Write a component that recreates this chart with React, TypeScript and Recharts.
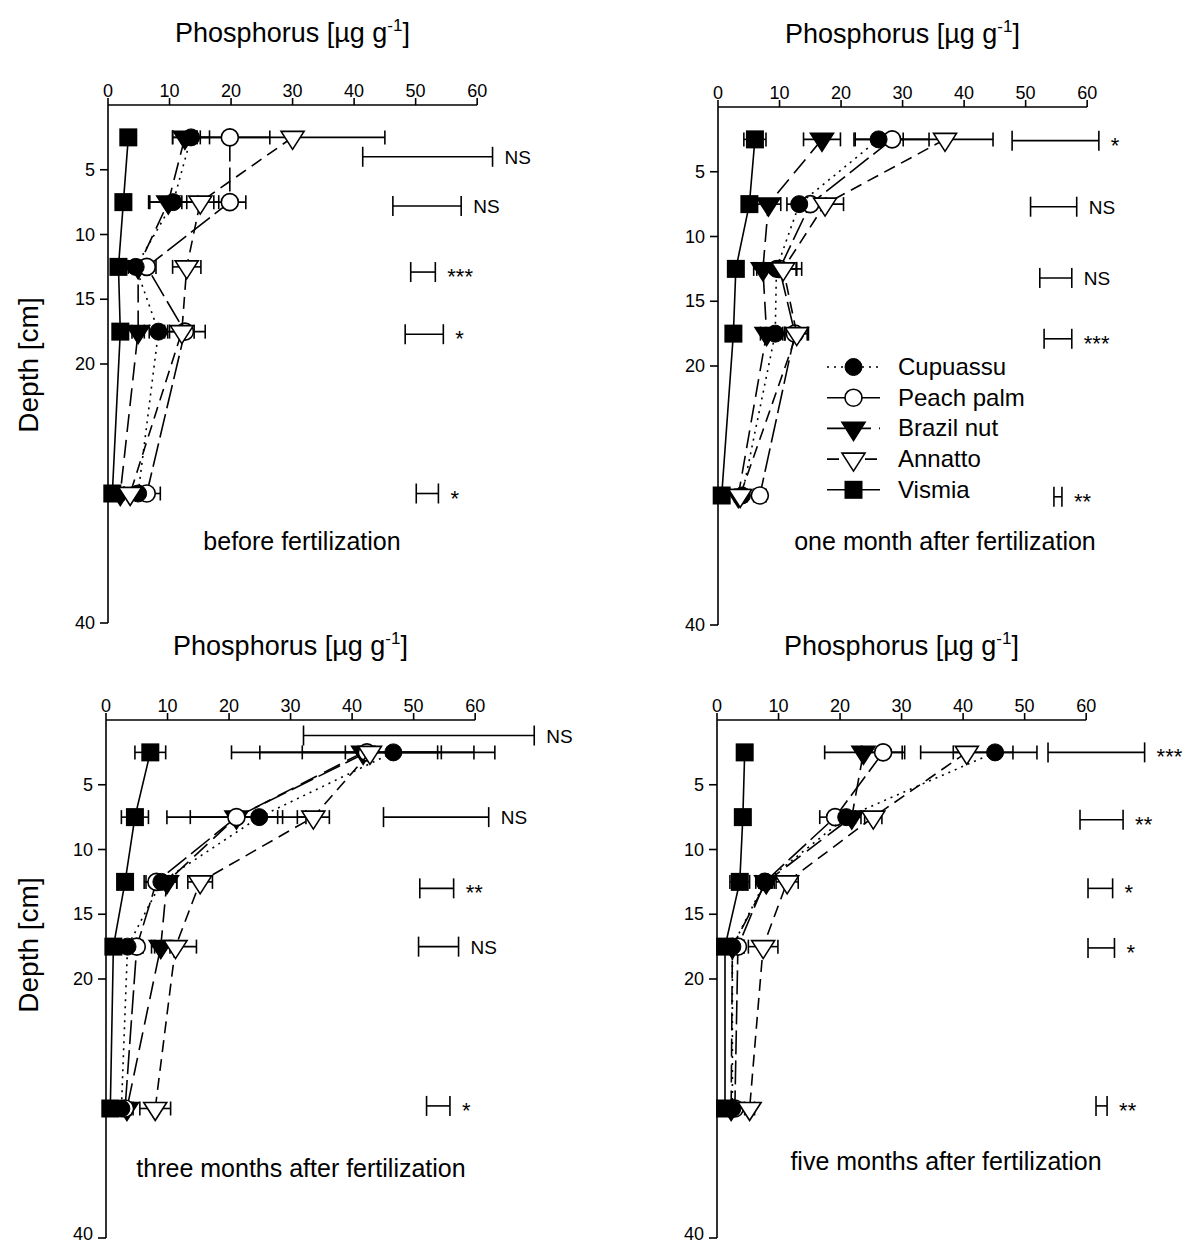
import React from "react";
import {
  ScatterChart,
  Scatter,
  XAxis,
  YAxis,
  ErrorBar,
  ReferenceLine,
  Legend,
} from "recharts";

const FONT = '"Liberation Sans", Arial, Helvetica, sans-serif';

const depths = [2.5, 7.5, 12.5, 17.5, 30];
const phosphorusTicks = [0, 10, 20, 30, 40, 50, 60];
const depthTicks = [5, 10, 15, 20, 40];
const species = ["Cupuassu", "Peach palm", "Brazil nut", "Annatto", "Vismia"];

// rows follow `species`, columns follow `depths`
const beforeMeans = [
  [13.5, 10.6, 4.5, 8.2, 4.9],
  [19.8, 19.8, 6.3, 12.5, 6.3],
  [12.5, 9.8, 4.9, 4.9, 2.0],
  [30.0, 15.0, 12.8, 12.0, 3.6],
  [3.3, 2.5, 1.7, 2.0, 0.7],
];
const beforeErrors = [
  [3.0, 4.0, 1.2, 1.5, 1.0],
  [6.5, 2.6, 1.5, 3.3, 2.2],
  [2.0, 3.0, 0.8, 1.0, 0.6],
  [15.0, 3.0, 2.3, 2.0, 1.0],
  [0.8, 0.8, 0.6, 0.6, 0.4],
];
const beforeSigLow = [41.4, 46.3, 49.2, 48.3, 50.1];
const beforeSigHigh = [62.5, 57.4, 53.2, 54.5, 53.7];
const beforeSigDepth = [4.0, 7.8, 12.9, 17.7, 30.0];
const beforeSigText = ["NS", "NS", "***", "*", "*"];

const oneMonthMeans = [
  [26.1, 13.2, 9.5, 9.3, 3.9],
  [28.3, 15.0, 10.0, 12.5, 6.8],
  [16.9, 8.2, 7.3, 7.9, 3.3],
  [36.9, 17.4, 10.6, 12.8, 3.6],
  [6.0, 5.1, 2.9, 2.5, 0.6],
];
const oneMonthErrors = [
  [4.0, 2.0, 3.2, 1.5, 0.8],
  [6.0, 2.5, 2.8, 2.0, 1.0],
  [3.0, 2.0, 1.5, 1.0, 0.6],
  [7.8, 3.0, 3.0, 1.9, 0.8],
  [1.8, 1.0, 0.5, 0.5, 0.4],
];
const oneMonthSigLow = [47.8, 50.8, 52.3, 53.0, 54.6];
const oneMonthSigHigh = [61.9, 58.3, 57.5, 57.5, 55.9];
const oneMonthSigDepth = [2.6, 7.7, 13.2, 17.9, 30.1];
const oneMonthSigText = ["*", "NS", "NS", "***", "**"];

const threeMonthMeans = [
  [46.7, 24.9, 9.0, 3.5, 2.5],
  [42.4, 21.2, 8.2, 5.0, 3.1],
  [41.8, 21.2, 9.9, 8.9, 3.4],
  [42.9, 33.7, 15.3, 11.3, 8.0],
  [7.2, 4.7, 3.1, 1.2, 0.7],
];
const threeMonthErrors = [
  [7.8, 3.0, 2.5, 0.8, 0.8],
  [17.4, 7.5, 2.0, 1.0, 1.0],
  [21.4, 11.3, 1.6, 1.5, 1.0],
  [11.0, 2.6, 2.0, 3.4, 2.5],
  [2.5, 2.2, 0.8, 0.5, 0.4],
];
const threeMonthSigLow = [32.1, 45.1, 51.0, 50.8, 52.1];
const threeMonthSigHigh = [69.6, 62.2, 56.5, 57.3, 55.9];
const threeMonthSigDepth = [1.2, 7.5, 13.0, 17.5, 29.8];
const threeMonthSigText = ["NS", "NS", "**", "NS", "*"];

const fiveMonthMeans = [
  [45.2, 21.0, 7.8, 2.5, 2.5],
  [27.0, 19.2, 7.8, 3.4, 2.9],
  [23.8, 21.9, 8.0, 2.5, 2.3],
  [40.6, 25.4, 11.4, 7.5, 5.3],
  [4.5, 4.2, 3.7, 1.3, 1.3],
];
const fiveMonthErrors = [
  [6.8, 1.5, 1.0, 0.5, 0.5],
  [3.5, 2.5, 1.5, 1.0, 0.6],
  [6.3, 1.5, 1.0, 0.6, 0.5],
  [7.5, 1.4, 1.8, 2.4, 0.8],
  [0.6, 0.6, 1.6, 0.5, 0.5],
];
const fiveMonthSigLow = [53.8, 59.0, 60.3, 60.3, 61.6];
const fiveMonthSigHigh = [69.5, 66.0, 64.3, 64.6, 63.4];
const fiveMonthSigDepth = [2.5, 7.7, 13.0, 17.6, 29.8];
const fiveMonthSigText = ["***", "**", "*", "*", "**"];

// marker and line look per species (same order as `species`)
const markers = ["filledCircle", "openCircle", "filledTri", "openTri", "filledSquare"];
const dashes = ["2 5", "24 6", "18 8", "12 7", undefined];
const drawOrder = [4, 2, 1, 0, 3];

const LW = 1.6;

function Marker({ kind, cx, cy }: { kind: string; cx: number; cy: number }) {
  if (cx == null || cy == null) return null;
  switch (kind) {
    case "filledCircle":
      return <circle cx={cx} cy={cy} r={8.5} fill="#000" stroke="#000" />;
    case "openCircle":
      return <circle cx={cx} cy={cy} r={8.5} fill="#fff" stroke="#000" strokeWidth={LW} />;
    case "filledTri":
    case "openTri": {
      const pts = `${cx - 11.5},${cy - 6} ${cx + 11.5},${cy - 6} ${cx},${cy + 12}`;
      const open = kind === "openTri";
      return (
        <polygon
          points={pts}
          fill={open ? "#fff" : "#000"}
          stroke="#000"
          strokeWidth={LW}
          strokeLinejoin="miter"
        />
      );
    }
    default:
      return <rect x={cx - 9} y={cy - 9} width={18} height={18} fill="#000" />;
  }
}

function SigLabel(props: any) {
  const { cx, cy } = props;
  const text = props.payload?.text ?? props.text;
  if (cx == null) return null;
  const stars = text.includes("*");
  return (
    <text
      x={cx + 12}
      y={cy + (stars ? 12 : 7)}
      fontSize={stars ? 22 : 19}
      fontFamily={FONT}
      fill="#000"
    >
      {text}
    </text>
  );
}

function LegendBox() {
  return (
    <svg width={210} height={160} style={{ display: "block" }}>
      {species.map((name, i) => {
        const y = 15 + i * 30.7;
        return (
          <g key={name}>
            <line
              x1={0}
              x2={53}
              y1={y}
              y2={y}
              stroke="#000"
              strokeWidth={LW}
              strokeDasharray={dashes[i]}
            />
            <Marker kind={markers[i]} cx={26.5} cy={y} />
            <text x={71} y={y + 8} fontSize={24} fontFamily={FONT} fill="#000">
              {name}
            </text>
          </g>
        );
      })}
    </svg>
  );
}

type PanelProps = {
  means: number[][];
  errors: number[][];
  sigLow: number[];
  sigHigh: number[];
  sigDepth: number[];
  sigText: string[];
  left: number;
  top: number;
  legend?: boolean;
  atPageBottom?: boolean;
};

function Panel({
  means,
  errors,
  sigLow,
  sigHigh,
  sigDepth,
  sigText,
  left,
  top,
  legend,
  atPageBottom,
}: PanelProps) {
  const sig = sigLow.map((lo, i) => ({
    x: sigHigh[i],
    y: sigDepth[i],
    err: [sigHigh[i] - lo, 0],
    text: sigText[i],
  }));
  const tickStyle = { fontSize: 18, fill: "#000", fontFamily: FONT };
  const depthTick = (p: any) => {
    const v = p.payload.value;
    // the last label sits at the page edge; nudge it up a little so it is not cut
    const dy = atPageBottom && v === 40 ? 2 : 6;
    return (
      <text x={p.x} y={p.y + dy} textAnchor="end" {...tickStyle}>
        {v}
      </text>
    );
  };
  return (
    <div style={{ position: "absolute", left, top }}>
      <ScatterChart
        width={581}
        height={640}
        margin={{ top: 65, right: 30, bottom: 17, left: 68 }}
      >
        <XAxis
          type="number"
          dataKey="x"
          orientation="top"
          domain={[0, 72]}
          ticks={phosphorusTicks}
          interval={0}
          height={40}
          axisLine={false}
          tickLine={{ stroke: "#000", strokeWidth: LW }}
          tickSize={7}
          tickMargin={1}
          tick={tickStyle}
        />
        <YAxis
          type="number"
          dataKey="y"
          domain={[0, 40]}
          reversed
          ticks={depthTicks}
          interval={0}
          width={40}
          axisLine={{ stroke: "#000", strokeWidth: LW }}
          tickLine={{ stroke: "#000", strokeWidth: LW }}
          tickSize={8}
          tickMargin={5}
          tick={depthTick}
        />
        <ReferenceLine
          segment={[
            { x: 0, y: 0 },
            { x: 60, y: 0 },
          ]}
          stroke="#000"
          strokeWidth={LW}
          ifOverflow="visible"
        />
        {drawOrder.map((si) => {
          const data = depths.map((d, j) => ({ x: means[si][j], y: d, err: errors[si][j] }));
          return (
            <Scatter
              key={species[si]}
              name={species[si]}
              data={data}
              line={{ stroke: "#000", strokeWidth: LW, strokeDasharray: dashes[si] }}
              lineType="joint"
              shape={(p: any) => <Marker kind={markers[si]} cx={p.cx} cy={p.cy} />}
              isAnimationActive={false}
            >
              <ErrorBar dataKey="err" direction="x" width={7} stroke="#000" strokeWidth={LW} />
            </Scatter>
          );
        })}
        <Scatter
          name="LSD"
          data={sig}
          shape={SigLabel}
          legendType="none"
          isAnimationActive={false}
        >
          <ErrorBar dataKey="err" direction="x" width={10} stroke="#000" strokeWidth={LW} />
        </Scatter>
        {legend && (
          <Legend
            layout="horizontal"
            verticalAlign="middle"
            align="center"
            content={() => <LegendBox />}
            wrapperStyle={{ left: 217, top: 350, width: 210, height: 160 }}
          />
        )}
      </ScatterChart>
    </div>
  );
}

function Title({ x, y }: { x: number; y: number }) {
  return (
    <text x={x} y={y} textAnchor="middle" fontSize={27} fontFamily={FONT} fill="#000">
      Phosphorus [µg g
      <tspan dy={-11} fontSize={17}>
        -1
      </tspan>
      <tspan dy={11}>]</tspan>
    </text>
  );
}

function Caption({ x, y, children }: { x: number; y: number; children: string }) {
  return (
    <text x={x} y={y} textAnchor="middle" fontSize={25} fontFamily={FONT} fill="#000">
      {children}
    </text>
  );
}

function DepthLabel({ cx, cy }: { cx: number; cy: number }) {
  return (
    <text
      x={cx}
      y={cy + 10}
      textAnchor="middle"
      fontSize={28}
      fontFamily={FONT}
      fill="#000"
      transform={`rotate(-90 ${cx} ${cy})`}
    >
      Depth [cm]
    </text>
  );
}

export default function App() {
  return (
    <div
      style={{
        position: "absolute",
        left: 0,
        top: 0,
        width: 1189,
        height: 1245,
        overflow: "hidden",
        background: "#fff",
      }}
    >
      <Panel
        means={beforeMeans}
        errors={beforeErrors}
        sigLow={beforeSigLow}
        sigHigh={beforeSigHigh}
        sigDepth={beforeSigDepth}
        sigText={beforeSigText}
        left={0}
        top={0}
      />
      <Panel
        means={oneMonthMeans}
        errors={oneMonthErrors}
        sigLow={oneMonthSigLow}
        sigHigh={oneMonthSigHigh}
        sigDepth={oneMonthSigDepth}
        sigText={oneMonthSigText}
        left={610}
        top={2}
        legend
      />
      <Panel
        means={threeMonthMeans}
        errors={threeMonthErrors}
        sigLow={threeMonthSigLow}
        sigHigh={threeMonthSigHigh}
        sigDepth={threeMonthSigDepth}
        sigText={threeMonthSigText}
        left={-2}
        top={615}
        atPageBottom
      />
      <Panel
        means={fiveMonthMeans}
        errors={fiveMonthErrors}
        sigLow={fiveMonthSigLow}
        sigHigh={fiveMonthSigHigh}
        sigDepth={fiveMonthSigDepth}
        sigText={fiveMonthSigText}
        left={609}
        top={615}
        atPageBottom
      />
      <svg
        width={1189}
        height={1245}
        style={{ position: "absolute", left: 0, top: 0, pointerEvents: "none" }}
      >
        <Title x={292.5} y={42} />
        <Title x={902.5} y={43} />
        <Title x={290.5} y={655} />
        <Title x={901.5} y={655} />
        <DepthLabel cx={28} cy={365} />
        <DepthLabel cx={28} cy={945} />
        <Caption x={302} y={550}>before fertilization</Caption>
        <Caption x={945} y={550}>one month after fertilization</Caption>
        <Caption x={301} y={1177}>three months after fertilization</Caption>
        <Caption x={946} y={1170}>five months after fertilization</Caption>
      </svg>
    </div>
  );
}
